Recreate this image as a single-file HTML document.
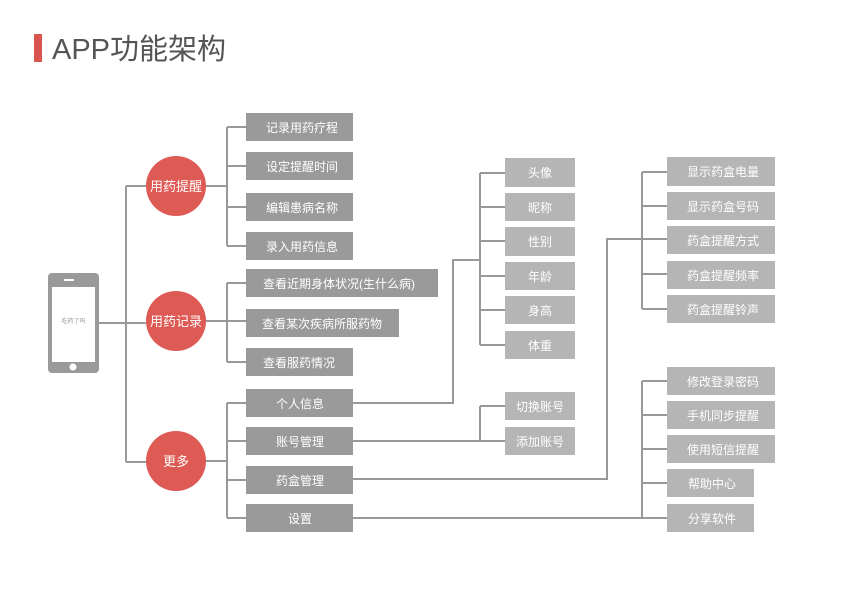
<!DOCTYPE html>
<html><head><meta charset="utf-8"><style>
body{margin:0;background:#fff;}
svg{display:block;font-family:"Liberation Sans","Noto Sans CJK SC",sans-serif;}
</style></head><body>
<svg width="849" height="600" viewBox="0 0 849 600" xmlns="http://www.w3.org/2000/svg">
<rect x="34" y="34" width="8" height="28" fill="#d9534f"/>
<text x="52" y="59" font-size="29" fill="#555">APP功能架构</text>
<!-- phone -->
<rect x="48" y="273" width="51" height="100" rx="4" fill="#9a9a9a"/>
<rect x="52" y="287" width="43" height="75" fill="#fff"/>
<rect x="64" y="279" width="10" height="2" fill="#fff"/>
<circle cx="73" cy="367" r="3.5" fill="#fff"/>
<text x="73.5" y="323" font-size="6" fill="#999" text-anchor="middle">吃药了吗</text>
<g stroke="#999" stroke-width="2" fill="none">
<path d="M99 323H146M126 186V462M126 186H146M126 462H146"/>
<path d="M206 186H227M227 127V246M227 127H246M227 166H246M227 207H246M227 246H246"/>
<path d="M206 321H246M227 283V362M227 283H246M227 362H246"/>
<path d="M206 461H227M227 403V518M227 403H246M227 441H246M227 480H246M227 518H246"/>
<path d="M353 403H453V260H480M480 173V345M480 173H505M480 207H505M480 241H505M480 276H505M480 310H505M480 345H505"/>
<path d="M353 441H505M480 406V441M480 406H505"/>
<path d="M353 479H607V239H667M642 172V309M642 172H667M642 206H667M642 274H667M642 309H667"/>
<path d="M353 518H667M642 381V518M642 381H667M642 415H667M642 449H667M642 483H667"/>
</g>
<g fill="#de5a55"><circle cx="176" cy="186" r="30"/><circle cx="176" cy="321" r="30"/><circle cx="176" cy="461" r="30"/></g>
<g fill="#fff" font-size="13" text-anchor="middle">
<text x="176" y="191">用药提醒</text><text x="176" y="326">用药记录</text><text x="176" y="466">更多</text>
</g>
<g fill="#9a9a9a">
<rect x="246" y="113" width="107" height="28"/><rect x="246" y="152" width="107" height="28"/>
<rect x="246" y="193" width="107" height="28"/><rect x="246" y="232" width="107" height="28"/>
<rect x="246" y="269" width="192" height="28"/><rect x="246" y="309" width="153" height="28"/>
<rect x="246" y="348" width="107" height="28"/><rect x="246" y="389" width="107" height="28"/>
<rect x="246" y="427" width="107" height="28"/><rect x="246" y="466" width="107" height="28"/>
<rect x="246" y="504" width="107" height="28"/>
</g>
<g fill="#b5b5b5">
<rect x="505" y="158" width="70" height="29"/><rect x="505" y="193" width="70" height="28"/>
<rect x="505" y="227" width="70" height="29"/><rect x="505" y="262" width="70" height="28"/>
<rect x="505" y="296" width="70" height="28"/><rect x="505" y="331" width="70" height="28"/>
<rect x="505" y="392" width="70" height="28"/><rect x="505" y="427" width="70" height="28"/>
<rect x="667" y="157" width="108" height="29"/><rect x="667" y="192" width="108" height="28"/>
<rect x="667" y="226" width="108" height="28"/><rect x="667" y="261" width="108" height="28"/>
<rect x="667" y="295" width="108" height="28"/>
<rect x="667" y="367" width="108" height="28"/><rect x="667" y="401" width="108" height="28"/>
<rect x="667" y="435" width="108" height="28"/><rect x="667" y="469" width="87" height="28"/>
<rect x="667" y="504" width="87" height="28"/>
</g>
<g fill="#fff" font-size="12" text-anchor="middle">
<text x="302" y="132">记录用药疗程</text><text x="302" y="171">设定提醒时间</text>
<text x="302" y="212">编辑患病名称</text><text x="302" y="251">录入用药信息</text>
<text x="339" y="288">查看近期身体状况(生什么病)</text><text x="322" y="328">查看某次疾病所服药物</text>
<text x="299" y="367">查看服药情况</text><text x="300" y="408">个人信息</text>
<text x="300" y="446">账号管理</text><text x="300" y="485">药盒管理</text><text x="300" y="523">设置</text>
<text x="540" y="177">头像</text><text x="540" y="212">昵称</text><text x="540" y="246">性别</text>
<text x="540" y="281">年龄</text><text x="540" y="315">身高</text><text x="540" y="350">体重</text>
<text x="540" y="411">切换账号</text><text x="540" y="446">添加账号</text>
<text x="723" y="176">显示药盒电量</text><text x="723" y="211">显示药盒号码</text>
<text x="723" y="245">药盒提醒方式</text><text x="723" y="280">药盒提醒频率</text>
<text x="723" y="314">药盒提醒铃声</text><text x="723" y="386">修改登录密码</text>
<text x="723" y="420">手机同步提醒</text><text x="723" y="454">使用短信提醒</text>
<text x="712" y="488">帮助中心</text><text x="712" y="523">分享软件</text>
</g>
</svg>
</body></html>
